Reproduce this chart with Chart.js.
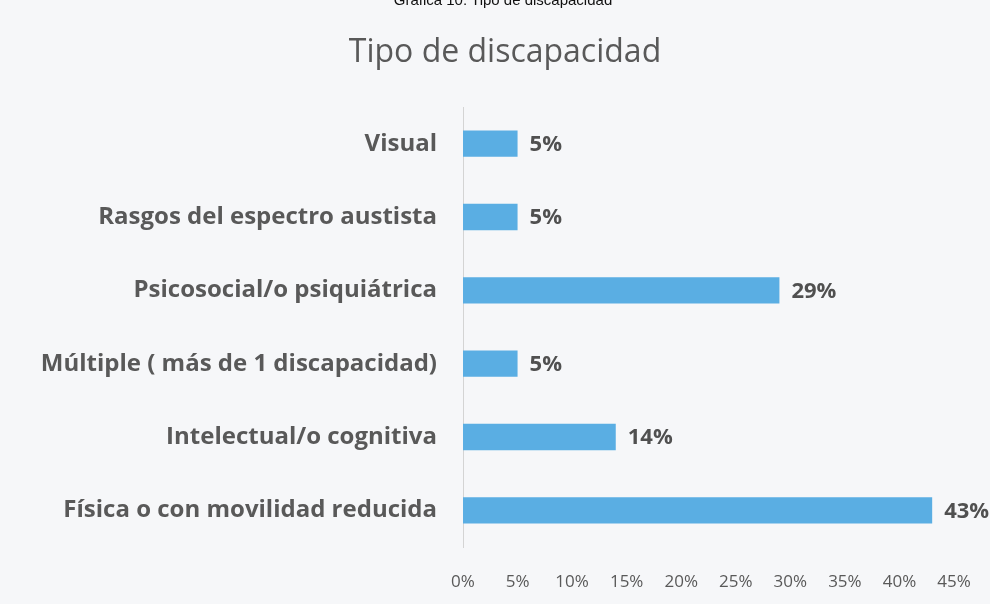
<!DOCTYPE html>
<html>
<head>
<meta charset="utf-8">
<script src="https://cdn.jsdelivr.net/npm/chart.js@4"></script>
<style>
  body { margin: 0; background: #f6f7f9; }
  #wrap { position: relative; width: 990px; height: 604px; overflow: hidden; }
  #cabecera { position: absolute; top: -9px; left: 0; width: 1006px; text-align: center;
    font: 15px "Liberation Sans", Arial, sans-serif; color: #111; }
  #titulo { position: absolute; top: 28px; left: 0; width: 1010px; text-align: center;
    font: 32px "Open Sans", sans-serif; color: #595959; line-height: 44px; }
</style>
</head>
<body>
<div id="wrap">
  <canvas id="grafico" width="990" height="604"></canvas>
  <div id="cabecera">Gráfica 10. Tipo de discapacidad</div>
  <div id="titulo">Tipo de discapacidad</div>
</div>
<script>
// Datos de la gráfica
const categorias = [
  "Visual",
  "Rasgos del espectro austista",
  "Psicosocial/o psiquiátrica",
  "Múltiple ( más de 1 discapacidad)",
  "Intelectual/o cognitiva",
  "Física o con movilidad reducida"
];
const porcentajes = [5, 5, 29, 5, 14, 43];
const ticksEje = [0, 5, 10, 15, 20, 25, 30, 35, 40, 45];

const fuente = "'Open Sans', sans-serif";

// Etiquetas de valor al final de cada barra
const etiquetasValor = {
  id: "etiquetasValor",
  afterDatasetsDraw(chart) {
    const ctx = chart.ctx;
    const meta = chart.getDatasetMeta(0);
    ctx.save();
    ctx.font = "bold 22px " + fuente;
    ctx.fillStyle = "#505050";
    ctx.textAlign = "left";
    ctx.textBaseline = "middle";
    meta.data.forEach((barra, i) => {
      ctx.fillText(porcentajes[i] + "%", barra.x + 12, barra.y + 1);
    });
    ctx.restore();
  }
};

new Chart(document.getElementById("grafico").getContext("2d"), {
  type: "bar",
  data: {
    labels: categorias,
    datasets: [{
      data: porcentajes,
      backgroundColor: "#5aaee3",
      barPercentage: 0.72,
      categoryPercentage: 0.5,
    }],
  },
  options: {
    indexAxis: "y",
    responsive: false,
    animation: false,
    layout: { padding: { left: 0, right: 36, top: 107, bottom: 0 } },
    plugins: {
      legend: { display: false },
      tooltip: { enabled: false },
      title: { display: false },
    },
    scales: {
      x: {
        min: 0,
        max: 45,
        afterBuildTicks: (eje) => { eje.ticks = ticksEje.map((v) => ({ value: v })); },
        afterFit: (eje) => { eje.height = 57; },
        ticks: {
          color: "#595959",
          font: { family: fuente, size: 17 },
          padding: 17,
          maxRotation: 0,
          callback: (v) => v + "%",
        },
        grid: { display: false },
        border: { display: false },
      },
      y: {
        afterFit: (eje) => { eje.width = 463; },
        ticks: {
          color: "#595959",
          font: { family: fuente, size: 24, weight: "bold" },
          padding: 18,
        },
        grid: { display: false },
        border: { display: true, color: "#d4d4d4" },
      },
    },
  },
  plugins: [etiquetasValor],
});
</script>
</body>
</html>
